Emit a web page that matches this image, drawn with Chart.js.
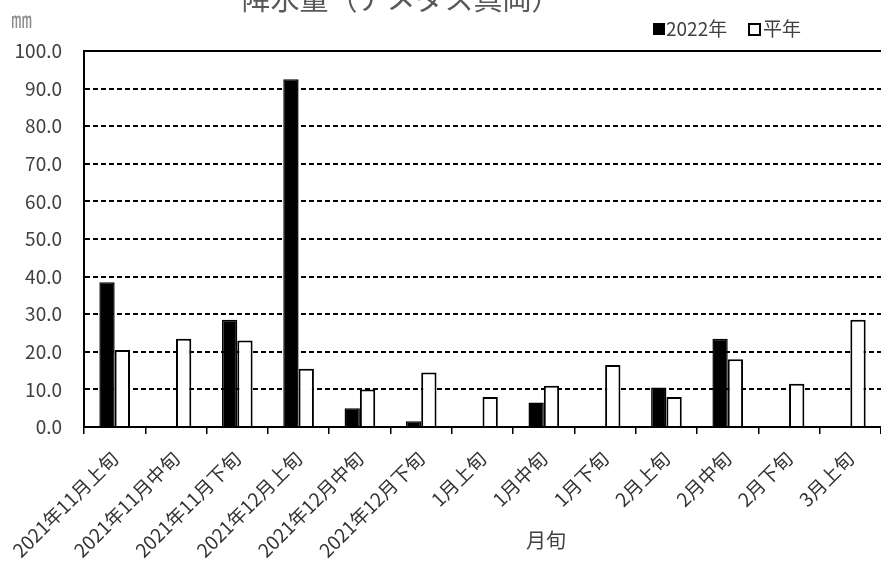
<!DOCTYPE html>
<html lang="ja">
<head>
<meta charset="utf-8">
<title>降水量（アメダス真岡）</title>
<script src="https://cdn.jsdelivr.net/npm/chart.js@4/dist/chart.umd.min.js"></script>
<style>
  html, body { margin: 0; padding: 0; background: #fff; }
  #wrap { width: 881px; height: 564px; position: relative; }
</style>
</head>
<body>
<div id="wrap"><canvas id="rain-chart"></canvas></div>
<script>
// Chart data (mm)
const periods = [
    '2021年11月上旬', '2021年11月中旬', '2021年11月下旬',
    '2021年12月上旬', '2021年12月中旬', '2021年12月下旬',
    '1月上旬', '1月中旬', '1月下旬',
    '2月上旬', '2月中旬', '2月下旬', '3月上旬'
];
const rain2022 = [38.5, 0, 28.5, 92.5, 5.0, 1.5, 0, 6.5, 0, 10.5, 23.5, 0, 0];
const rainNormal = [20.5, 23.5, 23.0, 15.5, 10.0, 14.5, 8.0, 11.0, 16.5, 8.0, 18.0, 11.5, 28.5];
const seriesNames = ['2022年', '平年'];
const yTicks = [0, 10, 20, 30, 40, 50, 60, 70, 80, 90, 100];

const FONT = '"Noto Sans CJK JP", "Noto Sans", sans-serif';

// Title, unit, legend and axis caption drawn on top of the chart
const decorations = {
    id: 'decorations',
    afterDraw(chart) {
        const ctx = chart.ctx;
        const area = chart.chartArea;
        ctx.save();

        // solid frame line across the top of the plot
        ctx.strokeStyle = '#000';
        ctx.lineWidth = 2;
        ctx.beginPath();
        ctx.moveTo(area.left, area.top);
        ctx.lineTo(area.right, area.top);
        ctx.stroke();

        // title (partly cut off at the top, as in the source)
        ctx.fillStyle = '#595959';
        ctx.font = '29px ' + FONT;
        ctx.textAlign = 'center';
        ctx.textBaseline = 'alphabetic';
        ctx.fillText('降水量（アメダス真岡）', 401, 10);

        // unit
        ctx.fillStyle = '#8c8c8c';
        ctx.font = '21px ' + FONT;
        ctx.textAlign = 'left';
        ctx.textBaseline = 'middle';
        ctx.fillText('㎜', 11, 19);

        // legend
        ctx.font = '19px ' + FONT;
        ctx.fillStyle = '#000';
        ctx.fillRect(653, 23, 12, 12);
        ctx.fillStyle = '#404040';
        ctx.fillText(seriesNames[0], 666, 29);
        ctx.fillStyle = '#fff';
        ctx.fillRect(749, 24, 11, 11);
        ctx.strokeStyle = '#000';
        ctx.lineWidth = 2;
        ctx.strokeRect(749, 24, 11, 11);
        ctx.fillStyle = '#404040';
        ctx.fillText(seriesNames[1], 763, 29);

        // x axis caption
        ctx.font = '20px ' + FONT;
        ctx.textAlign = 'center';
        ctx.fillText('月旬', 546, 540);

        ctx.restore();
    }
};

const ctx = document.getElementById('rain-chart').getContext('2d');
new Chart(ctx, {
    type: 'bar',
    data: {
        labels: periods,
        datasets: [
            {
                label: seriesNames[0],
                data: rain2022,
                backgroundColor: '#000',
                borderColor: '#000',
                borderWidth: 1.5
            },
            {
                label: seriesNames[1],
                data: rainNormal,
                backgroundColor: '#fff',
                borderColor: '#000',
                borderWidth: 2
            }
        ]
    },
    options: {
        responsive: true,
        maintainAspectRatio: false,
        animation: false,
        categoryPercentage: 0.5,
        barPercentage: 1.0,
        layout: { padding: { top: 51, left: 0, right: 0, bottom: 0 } },
        plugins: {
            legend: { display: false },
            tooltip: { enabled: false }
        },
        scales: {
            x: {
                grid: {
                    offset: true,
                    drawOnChartArea: false,
                    drawTicks: true,
                    tickLength: 7,
                    color: '#000',
                    lineWidth: 1.5
                },
                border: { color: '#000', width: 2 },
                ticks: {
                    autoSkip: false,
                    maxRotation: 45,
                    minRotation: 45,
                    padding: 13,
                    color: '#333',
                    font: { family: FONT, size: 19 }
                },
                afterFit(scale) { scale.height = 137; }
            },
            y: {
                min: 0,
                max: 100,
                afterBuildTicks(scale) {
                    scale.ticks = yTicks.map(v => ({ value: v }));
                },
                grid: {
                    drawTicks: false,
                    color: '#000',
                    lineWidth: 2
                },
                border: {
                    color: '#000',
                    width: 2,
                    dash: (c) => (c.tick && (c.tick.value === 0 || c.tick.value === 100)) ? [] : [5, 3]
                },
                ticks: {
                    padding: 22,
                    color: '#404040',
                    font: { family: FONT, size: 19 },
                    callback: (v) => Number(v).toFixed(1)
                },
                afterFit(scale) { scale.width = 83; }
            }
        }
    },
    plugins: [decorations]
});
</script>
</body>
</html>
